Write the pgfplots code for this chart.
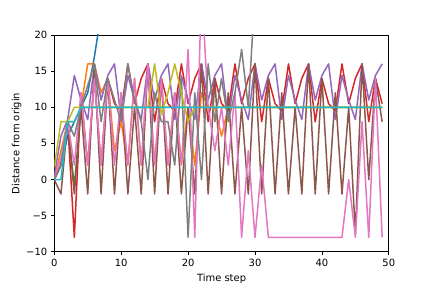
\documentclass[border=0pt]{standalone}
\usepackage{fontspec}
\setmainfont{DejaVu Sans}
\usepackage{pgfplots}
\pgfplotsset{compat=1.18}
\usepackage{pgfplotstable}
\definecolor{C0}{HTML}{1F77B4}
\definecolor{C1}{HTML}{FF7F0E}
\definecolor{C2}{HTML}{2CA02C}
\definecolor{C3}{HTML}{D62728}
\definecolor{C4}{HTML}{9467BD}
\definecolor{C5}{HTML}{8C564B}
\definecolor{C6}{HTML}{E377C2}
\definecolor{C7}{HTML}{7F7F7F}
\definecolor{C8}{HTML}{BCBD22}
\definecolor{C9}{HTML}{17BECF}
\pgfplotstableread{
t c0 c1 c2 c3 c4 c5 c6 c7 c8 c9
0 0 0 0 0 0.5 0 0 0 1.7 0
1 2 4 2 2 6 -2 3 2 8 0
2 6 8 8 8 8.3 8 8 8 8 8
3 8 8 -1 -8 14.4 -2 2 6 10 8
4 10 10 10 12 11 10 12 10 10 10
5 12 16 10 2 8.3 -2 2 13 10 10
6 17 16 10 14 16 16 14 16 10 10
7 23 12 10 2 11 -2 2 8 10 10
8 30 14 10 14 14.4 14 14 14 10 10
9 38 4 10 10.5 16 -2 2 11 10 10
10 46 8 10 9.5 8.3 12 12 8 10 10
11 54 2 10 16 14.4 -2 2 16 10 10
12 62 14 10 10.5 11 10 14 11 10 10
13 70 2 10 14 8.3 -2 2 8 10 10
14 78 16 10 16 16 16 16 0 10 10
15 86 2 10 8 11 -2 2 12 16 10
16 94 14 10 14 14.4 14 14 8 9 10
17 102 2 10 10.5 16 -2 2 8 12 10
18 110 12 10 9.5 8.3 12 12 2 16 10
19 118 2 10 16 14.4 -2 2 14 12 10
20 126 10 10 10.5 11 10 18 -8 8 10
21 134 2 10 14 8.3 -2 -8 12 10 10
22 142 12 10 16 16 16 27 0 10 10
23 150 10 10 8 11 -2 10 16 10 10
24 158 10 10 14 14.4 14 4 8 10 10
25 166 6 10 10.5 16 -2 10 14 10 10
26 174 10 10 9.5 8.3 12 2 8 10 10
27 182 10 10 16 14.4 -2 12 12 10 10
28 190 10 10 10.5 11 10 -8 18 10 10
29 198 10 10 14 8.3 -2 4 10 10 10
30 206 10 10 16 16 16 -8 26 10 10
31 214 10 10 8 11 -2 2 40 10 10
32 222 10 10 14 14.4 14 -8 55 10 10
33 230 10 10 10.5 16 -2 -8 70 10 10
34 238 10 10 9.5 8.3 12 -8 85 10 10
35 246 10 10 16 14.4 -2 -8 100 10 10
36 254 10 10 10.5 11 10 -8 115 10 10
37 262 10 10 14 8.3 -2 -8 130 10 10
38 270 10 10 16 16 16 -8 145 10 10
39 278 10 10 8 11 -2 -8 160 10 10
40 286 10 10 14 14.4 14 -8 175 10 10
41 294 10 10 10.5 16 -2 -8 190 10 10
42 302 10 10 9.5 8.3 12 -8 205 10 10
43 310 10 10 16 14.4 -2 -8 220 10 10
44 318 10 10 10.5 11 10 0 235 10 10
45 326 10 10 14 8.3 -7.5 -8 250 10 10
46 334 10 10 16 16 16 8 265 10 10
47 342 10 10 8 11 0 -8 280 10 10
48 350 10 10 14 14.4 14 14 295 10 10
49 358 10 10 10.5 16 8 -8 310 10 10
}\data
\begin{document}
\begin{tikzpicture}
\useasboundingbox (-54.3bp,-36bp) rectangle (378bp,252bp);
\begin{axis}[
  at={(0,0)}, anchor=south west,
  scale only axis, width=334.8bp, height=217bp,
  xmin=0, xmax=50, ymin=-10, ymax=20,
  xtick={0,10,...,50}, ytick={-10,-5,0,5,10,15,20},
  yticklabels={−10,−5,0,5,10,15,20},
  tick align=outside, tick pos=left,
  major tick length=3.5bp,
  tick style={line width=0.8bp, black},
  axis line style={line width=0.8bp},
  font=\fontsize{10}{12}\selectfont,
  /pgf/number format/assume math mode=true,
  xticklabel style={yshift=-0.5bp},
  xlabel={Time step}, ylabel={Distance from origin},
  ylabel style={yshift=-2bp},
  every axis plot/.append style={line width=1.5bp, line join=round, no markers},
]
\addplot[C0] table[x=t,y=c0]{\data};
\addplot[C1] table[x=t,y=c1]{\data};
\addplot[C2] table[x=t,y=c2]{\data};
\addplot[C3] table[x=t,y=c3]{\data};
\addplot[C4] table[x=t,y=c4]{\data};
\addplot[C5] table[x=t,y=c5]{\data};
\addplot[C6] table[x=t,y=c6]{\data};
\addplot[C7] table[x=t,y=c7]{\data};
\addplot[C8] table[x=t,y=c8]{\data};
\addplot[C9] table[x=t,y=c9]{\data};
\end{axis}
\end{tikzpicture}
\end{document}
